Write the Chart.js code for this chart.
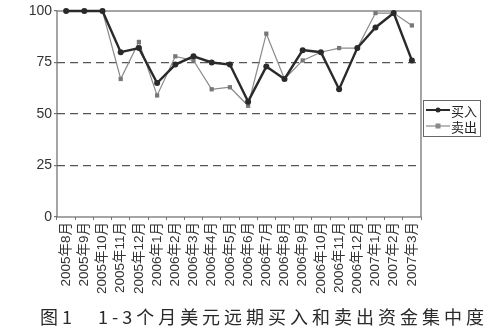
<!DOCTYPE html>
<html><head><meta charset="utf-8">
<script src="https://cdn.jsdelivr.net/npm/chart.js@4"></script>
<style>html,body{margin:0;padding:0;background:#fff;}#wrap{width:491px;height:330px;}</style>
</head><body><div id="wrap"><canvas id="c" width="491" height="330"></canvas></div>
<script>
const categories = ['2005年8月','2005年9月','2005年10月','2005年11月','2005年12月','2006年1月','2006年2月','2006年3月','2006年4月','2006年5月','2006年6月','2006年7月','2006年8月','2006年9月','2006年10月','2006年11月','2006年12月','2007年1月','2007年2月','2007年3月'];
const buyValues  = [100,100,100,80,82,65,74,78,75,74,56,73,67,81,80,62,82,92,99,76];
const sellValues = [100,100,100,67,85,59,78,76,62,63,54,89,67,76,80,82,82,99,99,93];
const yTicks = [0,25,50,75,100];
const seriesNames = ['买入','卖出'];
const captionText = '图1　1-3个月美元远期买入和卖出资金集中度';

const BUY_COLOR = '#2a2a2a', SELL_COLOR = '#8a8a8a';

const framePlugin = {
  id:'frame',
  beforeDatasetsDraw(chart){
    const {ctx, chartArea:a} = chart;
    ctx.save();
    ctx.strokeStyle = '#6a6a6a'; ctx.lineWidth = 1.2;
    ctx.strokeRect(a.left, a.top, a.right-a.left, a.bottom-a.top);
    ctx.restore();
  }
};
const legendPlugin = {
  id:'boxLegend',
  afterDraw(chart){
    const {ctx, chartArea:a} = chart;
    const x0 = a.right + 2, y0 = 100, w = 57, h = 36;
    ctx.save();
    ctx.fillStyle = '#fff'; ctx.fillRect(x0,y0,w,h);
    ctx.strokeStyle = '#666'; ctx.lineWidth = 1; ctx.strokeRect(x0+0.5,y0+0.5,w,h);
    const items = [
      {name:seriesNames[0], color:BUY_COLOR, lw:2, shape:'circle', y:y0+10},
      {name:seriesNames[1], color:SELL_COLOR, lw:1.2, shape:'rect', y:y0+26}
    ];
    ctx.font = '13px "Noto Sans CJK SC"';
    ctx.textBaseline = 'middle';
    items.forEach(it=>{
      ctx.strokeStyle = it.color; ctx.lineWidth = it.lw;
      ctx.beginPath(); ctx.moveTo(x0+3,it.y); ctx.lineTo(x0+27,it.y); ctx.stroke();
      ctx.fillStyle = it.color;
      if(it.shape==='circle'){ctx.beginPath();ctx.arc(x0+15,it.y,2.5,0,Math.PI*2);ctx.fill();}
      else ctx.fillRect(x0+12.5,it.y-2.5,5,5);
      ctx.fillStyle = '#222';
      ctx.fillText(it.name, x0+28, it.y+1);
    });
    ctx.restore();
  }
};
const captionPlugin = {
  id:'caption',
  afterDraw(chart){
    const ctx = chart.ctx;
    ctx.save();
    ctx.font = '18px "Noto Sans CJK SC"';
    ctx.fillStyle = '#2a2a2a';
    ctx.textBaseline = 'middle';
    const chars = Array.from(captionText);
    const total = chars.reduce((s,c)=>s+ctx.measureText(c).width,0);
    const left = 40, right = 484;
    const sp = (right-left-total)/(chars.length-1);
    let x = left;
    chars.forEach(c=>{ctx.fillText(c,x,317); x += ctx.measureText(c).width + sp;});
    ctx.restore();
  }
};

new Chart(document.getElementById('c'), {
  type:'line',
  data:{
    labels:categories,
    datasets:[
      {label:seriesNames[0], data:buyValues, borderColor:BUY_COLOR, backgroundColor:BUY_COLOR, borderWidth:2.4,
       pointStyle:'circle', pointRadius:3, pointBorderWidth:0, tension:0, clip:false},
      {label:seriesNames[1], data:sellValues, borderColor:SELL_COLOR, backgroundColor:'#777', borderWidth:1.2,
       pointStyle:'rect', pointRadius:3, pointBorderWidth:0, tension:0, clip:false}
    ]
  },
  options:{
    responsive:false, animation:false, devicePixelRatio:1,
    layout:{padding:{left:0,right:70,top:11,bottom:0}},
    plugins:{legend:{display:false}, tooltip:{enabled:false}, title:{display:false}},
    scales:{
      x:{
        offset:true,
        grid:{offset:true, drawOnChartArea:false, tickLength:3, color:'#777'},
        border:{display:false},
        ticks:{autoSkip:false, minRotation:90, maxRotation:90, color:'#333', padding:2,
               font:{family:'Arial, "Noto Sans CJK SC"', size:13.5}},
        afterFit(s){ s.height = 113; }
      },
      y:{
        min:0, max:100,
        afterBuildTicks(s){ s.ticks = yTicks.map(v=>({value:v})); },
        grid:{
          color:(c)=> (c.tick && (c.tick.value===0 || c.tick.value===100)) ? 'rgba(0,0,0,0)' : '#555',
          lineWidth:1.2, tickLength:3, tickColor:'#777', drawTicks:true
        },
        border:{display:false, dash:[8,5]},
        ticks:{color:'#333', padding:2, font:{family:'Arial', size:14}},
        afterFit(s){ s.width = 57; }
      }
    }
  },
  plugins:[framePlugin, legendPlugin, captionPlugin]
});
</script></body></html>
